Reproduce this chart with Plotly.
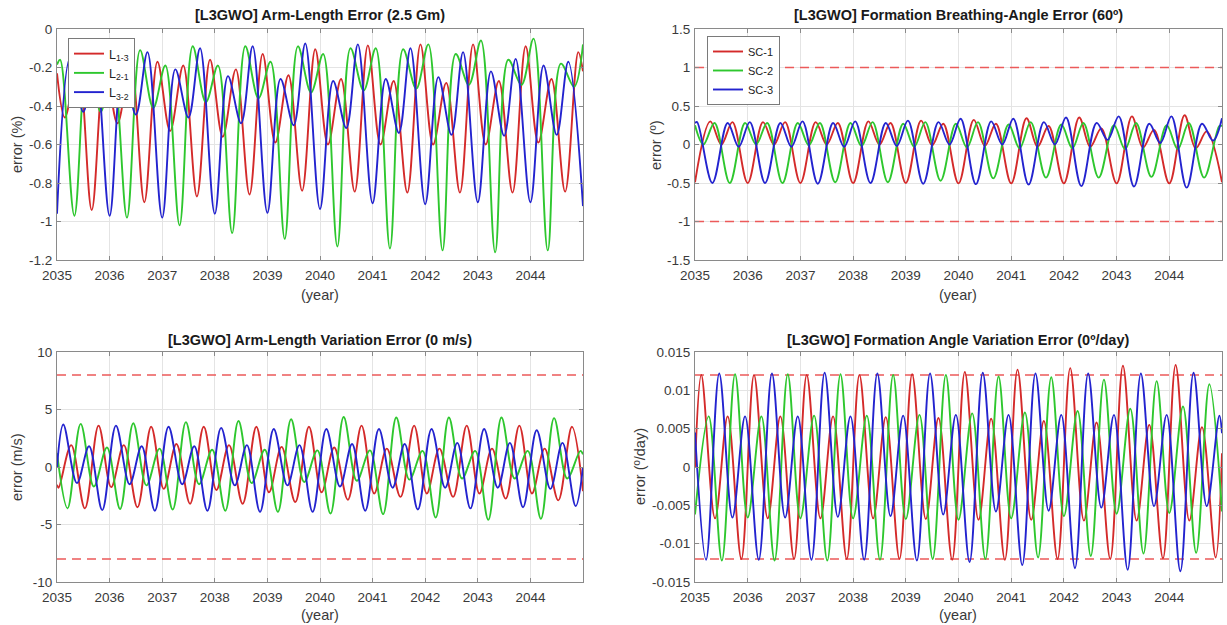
import plotly.graph_objects as go

YEARS = list(range(2035, 2045))

# ---------- Panel 1: arm-length error (%) : extrema per year ----------
L13_OFF = [0.15, 0.40, 0.66, 0.91]
L13_VAL = [[-0.46, -0.17, -0.94, -0.19], [-0.49, -0.17, -0.90, -0.17], [-0.53, -0.19, -0.87, -0.16],
           [-0.56, -0.21, -0.86, -0.13], [-0.59, -0.24, -0.84, -0.105], [-0.60, -0.26, -0.845, -0.085],
           [-0.60, -0.27, -0.85, -0.08], [-0.60, -0.28, -0.85, -0.08], [-0.60, -0.27, -0.85, -0.09],
           [-0.59, -0.26, -0.845, -0.12]]
L13_ENDS = [-0.23, -0.22]

L21_OFF = [0.06, 0.33, 0.58, 0.83]
L21_VAL = [[-0.16, -0.97, -0.12, -0.43], [-0.19, -0.98, -0.11, -0.41], [-0.19, -1.02, -0.09, -0.38],
           [-0.19, -1.06, -0.09, -0.36], [-0.17, -1.09, -0.09, -0.33], [-0.13, -1.13, -0.10, -0.32],
           [-0.10, -1.14, -0.105, -0.31], [-0.08, -1.15, -0.13, -0.29], [-0.06, -1.16, -0.16, -0.29],
           [-0.05, -1.15, -0.18, -0.30]]
L21_ENDS = [-0.185, -0.08]

L32_OFF = [0.0, 0.25, 0.50, 0.72]
L32_VAL = [[-0.96, -0.15, -0.43, -0.13], [-0.97, -0.18, -0.445, -0.12], [-0.98, -0.21, -0.46, -0.10],
           [-0.96, -0.245, -0.49, -0.09], [-0.955, -0.26, -0.50, -0.075], [-0.935, -0.27, -0.515, -0.08],
           [-0.905, -0.26, -0.54, -0.10], [-0.91, -0.25, -0.55, -0.12], [-0.90, -0.22, -0.555, -0.155],
           [-0.90, -0.19, -0.55, -0.17]]
L32_ENDS = [None, -0.92]

# ---------- Panel 2: breathing-angle error (deg) ----------
SC1_OFF = [0.0, 0.29, 0.50, 0.71]
SC1_VAL = [[-0.49, 0.30, 0.0, 0.29], [-0.50, 0.29, 0.0, 0.29], [-0.50, 0.29, 0.0, 0.28],
           [-0.50, 0.30, 0.0, 0.28], [-0.50, 0.31, -0.01, 0.27], [-0.505, 0.32, -0.02, 0.27],
           [-0.505, 0.34, -0.03, 0.24], [-0.505, 0.35, -0.03, 0.21], [-0.505, 0.365, -0.04, 0.19],
           [-0.505, 0.38, -0.05, 0.17]]
SC1_ENDS = [None, -0.49]

SC2_OFF = [0.16, 0.37, 0.66, 0.95]
SC2_VAL = [[0.0, 0.28, -0.50, 0.28], [0.0, 0.28, -0.50, 0.28], [-0.01, 0.28, -0.49, 0.28],
           [-0.02, 0.29, -0.49, 0.27], [-0.03, 0.29, -0.47, 0.27], [-0.04, 0.29, -0.44, 0.26],
           [-0.05, 0.29, -0.43, 0.26], [-0.05, 0.28, -0.43, 0.25], [-0.06, 0.28, -0.42, 0.25],
           [-0.06, 0.28, -0.43, 0.24]]
SC2_ENDS = [0.25, 0.24]

SC3_OFF = [0.04, 0.33, 0.62, 0.83]
SC3_VAL = [[0.29, -0.50, 0.28, -0.03], [0.29, -0.50, 0.28, -0.03], [0.30, -0.51, 0.28, -0.03],
           [0.30, -0.50, 0.28, -0.02], [0.31, -0.51, 0.29, 0.0], [0.335, -0.515, 0.30, 0.0],
           [0.335, -0.52, 0.29, 0.0], [0.35, -0.54, 0.28, 0.06], [0.365, -0.545, 0.27, 0.02],
           [0.365, -0.56, 0.27, 0.05]]
SC3_ENDS = [0.28, 0.34]

# ---------- Panel 3: arm-length variation error (m/s) ----------
V13_OFF = [0.03, 0.27, 0.53, 0.79]
V13_VAL = [[-1.8, 1.9, -3.6, 3.6], [-1.75, 1.9, -3.5, 3.5], [-1.9, 2.0, -3.2, 3.5],
           [-2.0, 1.9, -3.2, 3.5], [-2.2, 1.75, -3.05, 3.5], [-2.2, 1.7, -2.85, 3.6],
           [-2.3, 1.6, -2.6, 3.6], [-2.3, 1.6, -2.6, 3.6], [-2.3, 1.6, -2.75, 3.6],
           [-2.3, 1.6, -2.9, 3.5]]
V13_ENDS = [-1.55, -2.1]

V21_OFF = [0.20, 0.45, 0.70, 0.95]
V21_VAL = [[-3.6, 3.75, -1.7, 1.7], [-3.65, 3.8, -1.6, 1.6], [-3.7, 3.9, -1.5, 1.5],
           [-3.8, 4.0, -1.4, 1.5], [-3.9, 4.15, -1.3, 1.45], [-4.05, 4.35, -1.2, 1.45],
           [-4.1, 4.3, -1.1, 1.4], [-4.4, 4.3, -1.0, 1.4], [-4.6, 4.3, -1.0, 1.4],
           [-4.5, 4.25, -1.0, 1.4]]
V21_ENDS = [1.2, 1.1]

V32_OFF = [0.12, 0.38, 0.61, 0.86]
V32_VAL = [[3.7, -1.4, 1.8, -3.75], [3.6, -1.5, 1.8, -3.8], [3.5, -1.5, 1.8, -3.8],
           [3.4, -1.6, 1.9, -3.9], [3.3, -1.6, 1.9, -3.9], [3.3, -1.7, 2.0, -3.8],
           [3.3, -1.8, 2.0, -3.7], [3.3, -1.8, 2.1, -3.6], [3.3, -1.8, 2.1, -3.5],
           [3.2, -1.9, 2.1, -3.4]]
V32_ENDS = [0.0, 0.0]

# ---------- Panel 4: formation angle variation error (deg/day) ----------
W1_OFF = [0.12, 0.38, 0.62, 0.88]
W1_VAL = [[0.0120, -0.0067, 0.0066, -0.0120], [0.0120, -0.0067, 0.0066, -0.0120], [0.0120, -0.0067, 0.0066, -0.0120],
          [0.0120, -0.0067, 0.0065, -0.0120], [0.0121, -0.0068, 0.0064, -0.0121], [0.0124, -0.0069, 0.0063, -0.0121],
          [0.0127, -0.0069, 0.0060, -0.0120], [0.0129, -0.0070, 0.0058, -0.0120], [0.0132, -0.0070, 0.0055, -0.0119],
          [0.0133, -0.0070, 0.0052, -0.0118]]
W1_ENDS = [0.0, 0.0018]

W2_OFF = [0.0, 0.26, 0.51, 0.76]
W2_VAL = [[-0.0062, 0.0066, -0.0122, 0.0121], [-0.0066, 0.0066, -0.0122, 0.0121], [-0.0067, 0.0067, -0.0122, 0.0121],
          [-0.0067, 0.0067, -0.0121, 0.0120], [-0.0068, 0.0068, -0.0120, 0.0120], [-0.0069, 0.0070, -0.0120, 0.0118],
          [-0.0067, 0.0071, -0.0118, 0.0117], [-0.0064, 0.0073, -0.0116, 0.0114], [-0.0061, 0.0076, -0.0113, 0.0112],
          [-0.0060, 0.0079, -0.0112, 0.0108]]
W2_ENDS = [None, -0.0058]

W3_OFF = [0.21, 0.46, 0.71, 0.95]
W3_VAL = [[-0.0121, 0.0122, -0.0066, 0.0066], [-0.0121, 0.0122, -0.0066, 0.0066], [-0.0121, 0.0123, -0.0065, 0.0066],
          [-0.0121, 0.0122, -0.0064, 0.0067], [-0.0122, 0.0122, -0.0062, 0.0068], [-0.0124, 0.0123, -0.0058, 0.0068],
          [-0.0128, 0.0122, -0.0057, 0.0068], [-0.0132, 0.0122, -0.0053, 0.0068], [-0.0134, 0.0122, -0.0051, 0.0068],
          [-0.0136, 0.0123, -0.0051, 0.0067]]
W3_ENDS = [0.0045, 0.0044]

# limits (dashed red lines)
LIM_ANGLE = [1.0, -1.0]
LIM_VEL = [8.0, -8.0]
LIM_RATE = [0.012, -0.012]

COLORS = ["#d42a2a", "#2ec72e", "#2323cf"]
LIMIT_COLOR = "#ec5a5a"
FONT = "Arial, 'Liberation Sans', sans-serif"


def build(off, rows, ends):
    pts = []
    if ends[0] is not None:
        pts.append((2035.0, ends[0]))
    for yr, row in zip(YEARS, rows):
        for o, val in zip(off, row):
            pts.append((yr + o, val))
    if ends[1] is not None:
        pts.append((2045.0, ends[1]))
    pts.sort()
    return [p[0] for p in pts], [p[1] for p in pts]


fig = go.Figure()

panels = [
    ("x", "y", [(L13_OFF, L13_VAL, L13_ENDS, "L<sub>1-3</sub>"), (L21_OFF, L21_VAL, L21_ENDS, "L<sub>2-1</sub>"),
                (L32_OFF, L32_VAL, L32_ENDS, "L<sub>3-2</sub>")], None, "legend"),
    ("x2", "y2", [(SC1_OFF, SC1_VAL, SC1_ENDS, "SC-1"), (SC2_OFF, SC2_VAL, SC2_ENDS, "SC-2"),
                  (SC3_OFF, SC3_VAL, SC3_ENDS, "SC-3")], LIM_ANGLE, "legend2"),
    ("x3", "y3", [(V13_OFF, V13_VAL, V13_ENDS, "L13"), (V21_OFF, V21_VAL, V21_ENDS, "L21"),
                  (V32_OFF, V32_VAL, V32_ENDS, "L32")], LIM_VEL, None),
    ("x4", "y4", [(W1_OFF, W1_VAL, W1_ENDS, "SC-1"), (W2_OFF, W2_VAL, W2_ENDS, "SC-2"),
                  (W3_OFF, W3_VAL, W3_ENDS, "SC-3")], LIM_RATE, None),
]

for xa, ya, series, lims, leg in panels:
    if lims:
        for lv in lims:
            fig.add_trace(go.Scatter(x=[2035, 2045], y=[lv, lv], mode="lines", xaxis=xa, yaxis=ya,
                                     line=dict(color=LIMIT_COLOR, width=1.5, dash="9px,6px"),
                                     showlegend=False, hoverinfo="skip"))
    for (off, rows, ends, name), col in zip(series, COLORS):
        t, v = build(off, rows, ends)
        kw = dict(showlegend=False)
        if leg:
            kw = dict(showlegend=True, legend=leg)
        fig.add_trace(go.Scatter(x=t, y=v, mode="lines", name=name, xaxis=xa, yaxis=ya,
                                 line=dict(color=col, width=1.9, shape="spline", smoothing=1.0), **kw))

W, H = 1227, 625
XD = [[57 / W, 583 / W], [695 / W, 1222 / W]]
YD = [[1 - 260 / H, 1 - 29 / H], [1 - 582 / H, 1 - 352 / H]]

axis_common = dict(showgrid=True, gridcolor="#e4e4e4", gridwidth=1, showline=True, linecolor="#8a8a8a",
                   linewidth=1, mirror="ticks", ticks="inside", ticklen=4, tickcolor="#8a8a8a",
                   zeroline=False, automargin=False,
                   tickfont=dict(family=FONT, size=13.5, color="#3a3a3a"))

xticks = [2035 + i for i in range(10)]
for i, (xd, yd) in enumerate([(XD[0], YD[0]), (XD[1], YD[0]), (XD[0], YD[1]), (XD[1], YD[1])]):
    sfx = "" if i == 0 else str(i + 1)
    fig.layout["xaxis" + sfx] = dict(domain=xd, range=[2035, 2045], tickvals=xticks,
                                     ticktext=[str(v) for v in xticks], anchor="y" + sfx,
                                     ticklabelstandoff=3, **axis_common)
    fig.layout["yaxis" + sfx] = dict(domain=yd, anchor="x" + sfx, ticklabelstandoff=1, **axis_common)

fig.layout.yaxis.update(range=[-1.2, 0], tickvals=[0, -0.2, -0.4, -0.6, -0.8, -1, -1.2],
                        ticktext=["0", "-0.2", "-0.4", "-0.6", "-0.8", "-1", "-1.2"])
fig.layout.yaxis2.update(range=[-1.5, 1.5], tickvals=[1.5, 1, 0.5, 0, -0.5, -1, -1.5],
                         ticktext=["1.5", "1", "0.5", "0", "-0.5", "-1", "-1.5"])
fig.layout.yaxis3.update(range=[-10, 10], tickvals=[10, 5, 0, -5, -10],
                         ticktext=["10", "5", "0", "-5", "-10"])
fig.layout.yaxis4.update(range=[-0.015, 0.015], tickvals=[0.015, 0.01, 0.005, 0, -0.005, -0.01, -0.015],
                         ticktext=["0.015", "0.01", "0.005", "0", "-0.005", "-0.01", "-0.015"])

TITLES = ["[L3GWO] Arm-Length Error (2.5 Gm)", "[L3GWO] Formation Breathing-Angle Error (60º)",
          "[L3GWO] Arm-Length Variation Error (0 m/s)", "[L3GWO] Formation Angle Variation Error (0º/day)"]
YLABELS = ["error (%)", "error (º)", "error (m/s)", "error (º/day)"]

ann = []
title_pos = [(320, 15), (958, 15), (320, 340), (958, 340)]
for (px, py), txt in zip(title_pos, TITLES):
    ann.append(dict(text="<b>" + txt + "</b>", x=px / W, y=1 - py / H, xref="paper", yref="paper",
                    showarrow=False, xanchor="center", yanchor="middle",
                    font=dict(family=FONT, size=14.5, color="#1a1a1a")))
for px, py in [(320, 295), (958, 295), (320, 615), (958, 615)]:
    ann.append(dict(text="(year)", x=px / W, y=1 - py / H, xref="paper", yref="paper", showarrow=False,
                    xanchor="center", yanchor="middle", font=dict(family=FONT, size=14.5, color="#3a3a3a")))
for (px, py), txt in zip([(17, 145), (656, 145), (17, 467), (640, 467)], YLABELS):
    ann.append(dict(text=txt, x=px / W, y=1 - py / H, xref="paper", yref="paper", showarrow=False,
                    textangle=-90, xanchor="center", yanchor="middle",
                    font=dict(family=FONT, size=14.5, color="#3a3a3a")))

fig.update_layout(
    width=W, height=H, margin=dict(l=0, r=0, t=0, b=0), paper_bgcolor="white", plot_bgcolor="white",
    annotations=ann,
    legend=dict(x=68 / W, y=1 - 38 / H, xanchor="left", yanchor="top", bgcolor="white",
                bordercolor="#7a7a7a", borderwidth=1, font=dict(family=FONT, size=12.5, color="#222"),
                tracegroupgap=0),
    legend2=dict(x=707 / W, y=1 - 36 / H, xanchor="left", yanchor="top", bgcolor="white",
                 bordercolor="#7a7a7a", borderwidth=1, font=dict(family=FONT, size=11, color="#222"),
                 tracegroupgap=0),
    font=dict(family=FONT),
)

fig.write_html("out.html")
